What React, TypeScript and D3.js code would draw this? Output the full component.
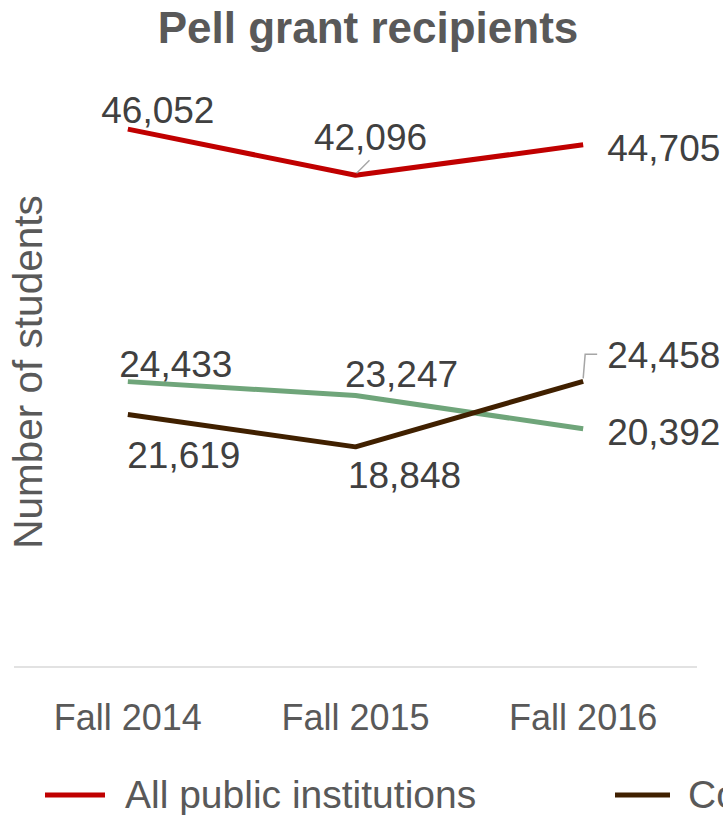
import React, { useEffect } from "react";
import * as d3 from "d3";

const categories = ["Fall 2014", "Fall 2015", "Fall 2016"];
const allPublic = [46052, 42096, 44705];
const community = [21619, 18848, 24458];
const universities = [24433, 23247, 20392];
const legendNames = ["All public institutions", "Community colleges"];

const W = 723;
const H = 815;
const FONT = "'Liberation Sans', Arial, sans-serif";

// label placement per series / point: [dx, dy, anchor]
type Place = [number, number, "start" | "middle" | "end"];
const redPlace: Place[] = [[30, -6, "middle"], [15, -25, "middle"], [24, 16, "start"]];
const brownPlace: Place[] = [[56, 54, "middle"], [49, 41, "middle"], [24, -13, "start"]];
const greenPlace: Place[] = [[48, -5, "middle"], [46, -8, "middle"], [24, 16, "start"]];

export default function App() {
  useEffect(() => {
    document.body.style.margin = "0";
  }, []);

  const x = d3.scalePoint<string>().domain(categories).range([14, 697]).padding(0.5);
  const y = d3.scaleLinear().domain([0, 50000]).range([667, 83]);
  const line = d3
    .line<number>()
    .x((_, i) => x(categories[i]) as number)
    .y((d) => y(d));

  const series = [
    { values: universities, color: "#6FA57A", place: greenPlace },
    { values: community, color: "#402000", place: brownPlace },
    { values: allPublic, color: "#C00000", place: redPlace },
  ];

  const fmt = d3.format(",");

  const p15 = [x(categories[1]) as number, y(allPublic[1])];
  const p16 = [x(categories[2]) as number, y(community[2])];

  return (
    <svg width={W} height={H} style={{ display: "block", fontFamily: FONT }}>
      <rect width={W} height={H} fill="#fff" />
      <text x={368} y={43} textAnchor="middle" fontSize={44} fontWeight="bold" fill="#595959">
        Pell grant recipients
      </text>
      <text
        transform={`translate(42,${372}) rotate(-90)`}
        textAnchor="middle"
        fontSize={40.5}
        fill="#595959"
      >
        Number of students
      </text>
      <line x1={14} x2={697} y1={667} y2={667} stroke="#D9D9D9" strokeWidth={1.5} />
      {categories.map((c) => (
        <text key={c} x={x(c)} y={730} textAnchor="middle" fontSize={36} fill="#595959">
          {c}
        </text>
      ))}
      {series.map((s, si) => (
        <path key={si} d={line(s.values) || ""} fill="none" stroke={s.color} strokeWidth={5} strokeLinejoin="round" />
      ))}
      {/* leader lines */}
      <line x1={p15[0] + 1} y1={p15[1] - 2} x2={p15[0] + 14} y2={p15[1] - 15} stroke="#A6A6A6" strokeWidth={1.5} />
      <polyline
        points={`${p16[0]},${p16[1] - 3} ${p16[0] + 2},${p16[1] - 27} ${p16[0] + 14},${p16[1] - 27}`}
        fill="none"
        stroke="#A6A6A6"
        strokeWidth={1.5}
      />
      {series.map((s, si) =>
        s.values.map((v, i) => {
          const [dx, dy, anchor] = s.place[i];
          return (
            <text
              key={`${si}-${i}`}
              x={(x(categories[i]) as number) + dx}
              y={y(v) + dy}
              textAnchor={anchor}
              fontSize={37}
              fill="#404040"
            >
              {fmt(v)}
            </text>
          );
        })
      )}
      {/* legend */}
      <line x1={45} x2={105} y1={795} y2={795} stroke="#C00000" strokeWidth={5} />
      <text x={125} y={808} fontSize={39} fill="#595959">{legendNames[0]}</text>
      <line x1={615} x2={670} y1={795} y2={795} stroke="#402000" strokeWidth={5} />
      <text x={688} y={808} fontSize={39} fill="#595959">{legendNames[1]}</text>
    </svg>
  );
}
